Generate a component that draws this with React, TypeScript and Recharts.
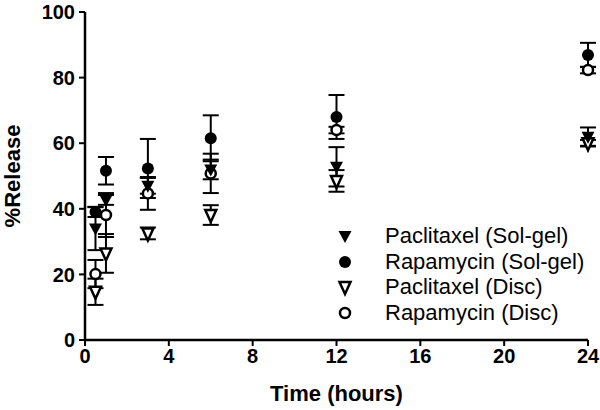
import { ScatterChart, Scatter, XAxis, YAxis, ErrorBar } from "recharts";

const FONT = "Arial, 'Liberation Sans', sans-serif";

// sampling times (hours)
const times = [0.5, 1, 3, 6, 12, 24];

// % release (mean and error)
const paclitaxelSolGel = [34, 42.7, 47, 52, 52.8, 62];
const paclitaxelSolGelErr = [6.6, 1.5, 2.4, 3, 6, 2.8];
const rapamycinSolGel = [39, 51.6, 52.3, 61.5, 68, 86.9];
const rapamycinSolGelErr = [1.5, 4.2, 9, 7, 6.7, 3.7];
const paclitaxelDisc = [14.7, 26.4, 32.5, 38.1, 48.5, 60];
const paclitaxelDiscErr = [4, 5.9, 1.8, 3, 3.3, 1];
const rapamycinDisc = [20.1, 38.1, 44.7, 50.8, 64, 82.3];
const rapamycinDiscErr = [4.3, 6.7, 5, 6, 1, 1];

const xTicks = [0, 4, 8, 12, 16, 20, 24];
const yTicks = [0, 20, 40, 60, 80, 100];

type Kind = "triFilled" | "dotFilled" | "triOpen" | "dotOpen";

const toPoints = (vals: number[], errs: number[]) =>
  times.map((t, i) => ({ x: t, y: vals[i], err: errs[i] }));

const series: { name: string; kind: Kind; data: { x: number; y: number; err: number }[] }[] = [
  { name: "Paclitaxel (Sol-gel)", kind: "triFilled", data: toPoints(paclitaxelSolGel, paclitaxelSolGelErr) },
  { name: "Rapamycin (Sol-gel)", kind: "dotFilled", data: toPoints(rapamycinSolGel, rapamycinSolGelErr) },
  { name: "Paclitaxel (Disc)", kind: "triOpen", data: toPoints(paclitaxelDisc, paclitaxelDiscErr) },
  { name: "Rapamycin (Disc)", kind: "dotOpen", data: toPoints(rapamycinDisc, rapamycinDiscErr) },
];

// draw order: open markers first so the filled ones sit on top
const drawOrder = [2, 3, 0, 1];

function Marker({ cx, cy, kind }: { cx: number; cy: number; kind: Kind }) {
  if (cx == null || cy == null) return null;
  if (kind === "dotFilled") return <circle cx={cx} cy={cy} r={6} fill="#000" />;
  if (kind === "dotOpen")
    return <circle cx={cx} cy={cy} r={5} fill="#fff" stroke="#000" strokeWidth={2.5} />;
  const open = kind === "triOpen";
  const w = open ? 5.5 : 6.5;
  const pts = `${cx - w},${cy - 5} ${cx + w},${cy - 5} ${cx},${cy + 7}`;
  return open ? (
    <polygon points={pts} fill="#fff" stroke="#000" strokeWidth={2.5} strokeLinejoin="miter" />
  ) : (
    <polygon points={pts} fill="#000" />
  );
}

function ChartLegend() {
  return (
    <div
      style={{
        position: "absolute",
        left: 335,
        top: 223,
        fontFamily: FONT,
        fontSize: 22,
        color: "#000",
      }}
    >
      {series.map((s) => (
        <div key={s.name} style={{ display: "flex", alignItems: "center", height: 25.7 }}>
          <svg width={50} height={24} style={{ flex: "none" }}>
            <Marker cx={10} cy={12} kind={s.kind} />
          </svg>
          <span style={{ whiteSpace: "nowrap" }}>{s.name}</span>
        </div>
      ))}
    </div>
  );
}

const tickStyle = { fill: "#000", fontSize: 20, fontWeight: 700, fontFamily: FONT };
const axisLine = { stroke: "#000", strokeWidth: 2.5 };
const tickLine = { stroke: "#000", strokeWidth: 2 };

export default function App() {
  return (
    <div style={{ position: "absolute", left: 0, top: 0, width: 600, height: 410, background: "#fff" }}>
      <ScatterChart width={600} height={410} margin={{ top: 12, right: 12, bottom: 0, left: 0 }}>
        <XAxis
          type="number"
          dataKey="x"
          domain={[0, 24]}
          ticks={xTicks}
          interval={0}
          height={70}
          tick={tickStyle}
          tickSize={6}
          tickMargin={3}
          axisLine={axisLine}
          tickLine={tickLine}
          label={(p: any) => {
            const vb = p.viewBox;
            return (
              <text
                x={vb.x + vb.width / 2}
                y={vb.y + 61}
                textAnchor="middle"
                fontFamily={FONT}
                fontSize={22}
                fontWeight={700}
                fill="#000"
              >
                Time (hours)
              </text>
            );
          }}
        />
        <YAxis
          type="number"
          dataKey="y"
          domain={[0, 100]}
          ticks={yTicks}
          interval={0}
          width={85}
          tick={tickStyle}
          tickSize={6}
          tickMargin={4}
          axisLine={axisLine}
          tickLine={tickLine}
          label={(p: any) => {
            const vb = p.viewBox;
            const cy = vb.y + vb.height / 2;
            return (
              <text
                x={20}
                y={cy}
                transform={`rotate(-90, 20, ${cy})`}
                textAnchor="middle"
                fontFamily={FONT}
                fontSize={22}
                fontWeight={700}
                fill="#000"
              >
                %Release
              </text>
            );
          }}
        />
        {drawOrder.map((i) => {
          const s = series[i];
          return (
            <Scatter
              key={s.name}
              name={s.name}
              data={s.data}
              isAnimationActive={false}
              shape={(p: any) => <Marker cx={p.cx} cy={p.cy} kind={s.kind} />}
            >
              <ErrorBar
                dataKey="err"
                direction="y"
                width={8}
                stroke="#000"
                strokeWidth={2}
                isAnimationActive={false}
              />
            </Scatter>
          );
        })}
      </ScatterChart>
      <ChartLegend />
    </div>
  );
}
